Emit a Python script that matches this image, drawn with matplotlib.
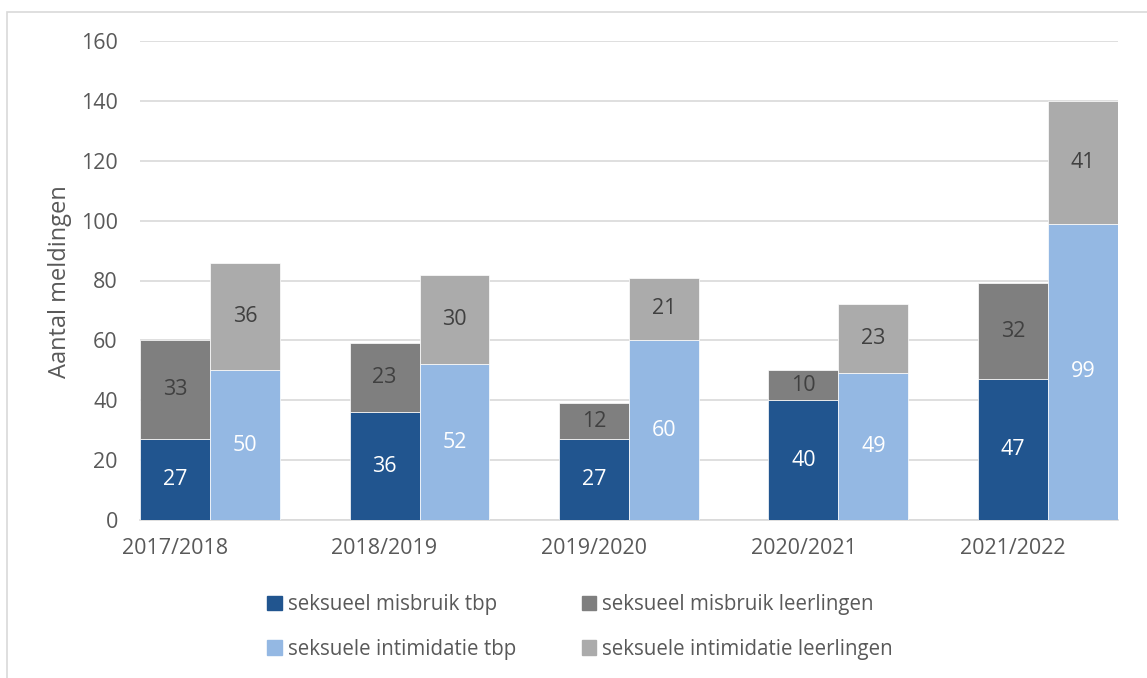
import numpy as np
import matplotlib
matplotlib.use('Agg')
import matplotlib.pyplot as plt
from matplotlib.patches import Rectangle, Patch

# ========================================================================
# data
years = ['2017/2018', '2018/2019', '2019/2020', '2020/2021', '2021/2022']
misbruik_tbp = [27, 36, 27, 40, 47]
misbruik_leerlingen = [33, 23, 12, 10, 32]
intimidatie_tbp = [50, 52, 60, 49, 99]
intimidatie_leerlingen = [36, 30, 21, 23, 41]

series_labels = ['seksueel misbruik tbp', 'seksueel misbruik leerlingen',
                 'seksuele intimidatie tbp', 'seksuele intimidatie leerlingen']
colors = ['#21558F', '#7F7F7F', '#94B8E3', '#ABABAB']
yticks = [0, 20, 40, 60, 80, 100, 120, 140, 160]

plt.rcParams['font.family'] = ['Open Sans', 'DejaVu Sans']
txt = '#595959'
fs = 15.5

W, H = 1147, 678
fig = plt.figure(figsize=(W/100., H/100.), dpi=100)
ax = fig.add_axes([140/W, 1-520/H, (1118-140)/W, (520-41)/H])

x = np.arange(len(years))
w = 70/209.5
x1 = x - w/2
x2 = x + w/2

b1 = ax.bar(x1, misbruik_tbp, w, color=colors[0], edgecolor='white', linewidth=0.5, zorder=3)
b2 = ax.bar(x1, misbruik_leerlingen, w, bottom=misbruik_tbp, color=colors[1],
            edgecolor='white', linewidth=0.5, zorder=3)
b3 = ax.bar(x2, intimidatie_tbp, w, color=colors[2], edgecolor='white', linewidth=0.5, zorder=3)
b4 = ax.bar(x2, intimidatie_leerlingen, w, bottom=intimidatie_tbp, color=colors[3],
            edgecolor='white', linewidth=0.5, zorder=3)

ax.bar_label(b1, label_type='center', color='white', fontsize=fs)
ax.bar_label(b2, label_type='center', color='#404040', fontsize=fs)
ax.bar_label(b3, label_type='center', color='white', fontsize=fs)
ax.bar_label(b4, label_type='center', color='#404040', fontsize=fs)

ax.set_xlim(-w, len(years)-1+w)
ax.set_ylim(0, 160)
ax.set_yticks(yticks)
ax.set_xticks(x1)
ax.set_xticklabels(years)
ax.tick_params(axis='both', length=0, labelsize=fs, labelcolor=txt)
ax.tick_params(axis='y', pad=16)
ax.tick_params(axis='x', pad=13)
ax.yaxis.grid(True, color='#D9D9D9', linewidth=1.2, zorder=0)
ax.set_axisbelow(True)
for s in ['top', 'right', 'left']:
    ax.spines[s].set_visible(False)
ax.spines['bottom'].set_color('#D9D9D9')
ax.spines['bottom'].set_linewidth(1.2)

fig.text(60/W, 1-282/H, 'Aantal meldingen', rotation=90, ha='center', va='center',
         fontsize=17, color=txt)

# legend (row order as in the chart)
handles = [Patch(color=colors[0]), Patch(color=colors[2]),
           Patch(color=colors[1]), Patch(color=colors[3])]
labels = [series_labels[0], series_labels[2], series_labels[1], series_labels[3]]
fig.legend(handles, labels, ncol=2, loc='center', bbox_to_anchor=(580/W, 1-627/H),
           frameon=False, fontsize=14.8, labelcolor=txt, handlelength=0.7, handleheight=0.7,
           handletextpad=0.3, columnspacing=3.2, labelspacing=1.15)

# chart frame
fig.patches.append(Rectangle((7/W, -0.1), 1.2, 1.1-12/H, transform=fig.transFigure,
                             fill=False, edgecolor='#D9D9D9', linewidth=1.2))

fig.savefig('out.png', dpi=100)
